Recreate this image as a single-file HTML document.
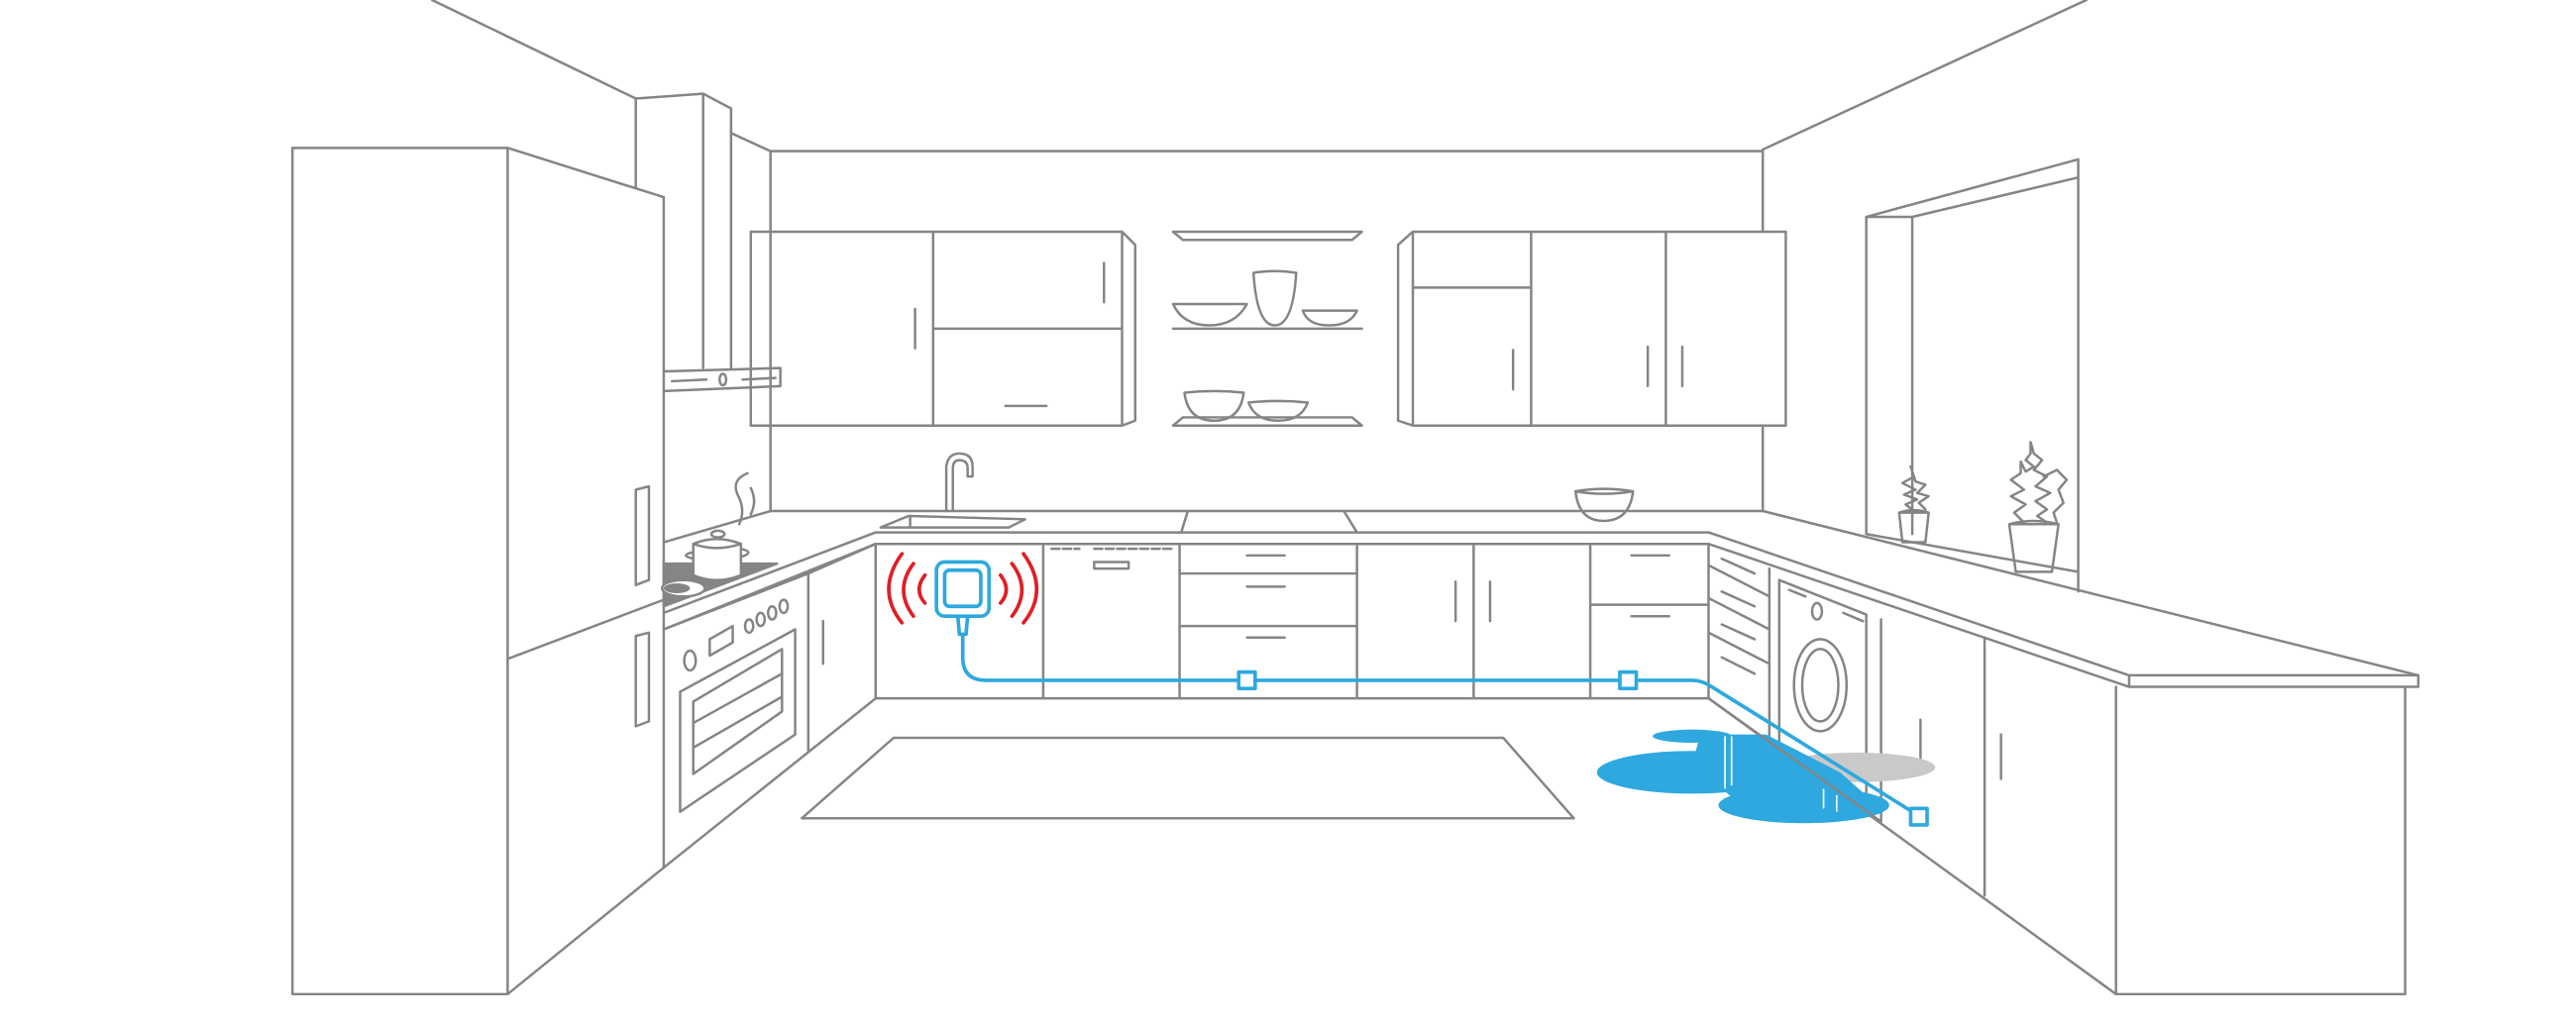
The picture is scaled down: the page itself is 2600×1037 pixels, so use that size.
<!DOCTYPE html>
<html><head><meta charset="utf-8"><style>html,body{margin:0;padding:0;background:#fff}svg{display:block}</style></head>
<body>
<svg width="2600" height="1037" viewBox="0 0 1568 625" preserveAspectRatio="none" xmlns="http://www.w3.org/2000/svg">
<g fill="none" stroke="#858585" stroke-width="1.5" stroke-linejoin="round" stroke-linecap="round">
<path d="M263 0 L387 60 M1270 0 L1073 91"/>
<path d="M387 60 L387 114 M387 60 L428 57 L445 66 M428 57 L428 224 M445 66 L445 224 M445 81 L469 92 L1073 92 M469 92 L469 311 M1073 92 L1073 141 M1073 259 L1073 311"/>
<path d="M404 226 L475 224 L475 235 L404 238 M409 232 L430 231 M452 231 L472 230"/>
<ellipse cx="440" cy="231" rx="2" ry="3.5"/>
<path d="M178 90 L309 90 L309 605 L178 605 Z M309 90 L404 120 L404 528 M309 605 L404 528 M309 401 L404 365"/>
<path d="M387 298 L395 296 L395 353 L387 356 Z M387 387 L395 385 L395 439 L387 442 Z"/>
<path d="M469 311 L1073 311 M469 311 L404 330 M533 324 L1040 324 M533 331 L1040 331 M533 324 L404 373 M533 331 L404 383"/>
<path d="M723 311 L719 324 M818 311 L826 324"/>
<path d="M1040 324 L1296 411 L1472 411 L1472 418 L1296 418 L1040 331 M1296 411 L1296 418 M1073 311 L1472 411"/>
<path d="M1136 132 L1164 132 M1136 132 L1265 97 L1265 360 M1164 132 L1265 108 M1136 132 L1136 325 M1164 132 L1164 325 M1136 325 L1265 348"/>
<path d="M533 331 L533 425 L1040 425 M635 331 L635 425 M718 331 L718 425 M826 331 L826 425 M897 331 L897 425 M968 331 L968 425 M1040 331 L1040 425"/>
<path d="M718 349 L826 349 M718 381 L826 381 M968 368 L1040 368"/>
<path d="M759 338 L782 338 M759 357 L782 357 M759 388 L782 388 M993 338 L1016 338 M993 375 L1016 375 M886 354 L886 378 M907 354 L907 378"/>
<path d="M640 334 L657 334 M666 334 L713 334" stroke-dasharray="5 2"/>
<rect x="666" y="342" width="21" height="4"/>
<path d="M404 528 L533 425 M492 349 L492 457 M492 349 L533 331 M404 383 L492 349 M501 378 L501 404"/>
<path d="M414 421 L484 383 L484 447 L414 494 Z M422 427 L476 395 L476 433 L422 471 Z M422 440 L476 410 M422 455 L476 424"/>
<path d="M432 389 L446 381 L446 391 L432 399 Z"/>
<ellipse cx="420" cy="402" rx="3.5" ry="6"/>
<ellipse cx="456" cy="381" rx="2.5" ry="4"/><ellipse cx="463" cy="377" rx="2.5" ry="4"/><ellipse cx="470" cy="373" rx="2.5" ry="4"/><ellipse cx="477" cy="369" rx="2.5" ry="4"/>
<!-- cooktop -->
<path d="M404 343 L473 343 L404 369 Z" fill="#858585"/>
<ellipse cx="416" cy="358" rx="13" ry="5" fill="#fff"/>
<ellipse cx="412" cy="358" rx="8" ry="3" fill="#858585" stroke="none"/>
<path d="M422 331 L422 350 Q436 356 451 350 L451 331 M422 331 Q436 325 451 331 Q436 336 422 331 M422 336 Q413 338 422 340 M451 334 Q460 336 451 339" fill="#fff"/>
<ellipse cx="437" cy="325" rx="4" ry="2" fill="#fff"/>
<path d="M455 288 Q445 292 449 301 Q454 310 450 319 M457 297 Q461 305 457 313"/>
<!-- right lower -->
<path d="M1040 425 L1288 605 M1288 418 L1288 605 L1464 605 L1464 418 M1077 346 L1077 455 M1145 377 L1145 500 M1208 388 L1208 545 M1040 344 L1077 363 M1040 364 L1077 383 M1040 385 L1077 404"/>
<path d="M1083 353 L1136 374 L1136 492 M1083 353 L1083 458"/>
<path d="M1048 340 L1068 349 M1048 360 L1068 369 M1048 380 L1068 389 M1048 400 L1068 410 M1089 359 L1099 363 M1122 373 L1134 378 M1169 438 L1169 462 M1218 447 L1218 474"/>
<ellipse cx="1108" cy="417" rx="16" ry="28"/><ellipse cx="1108" cy="417" rx="11" ry="22"/>
<ellipse cx="1106" cy="372" rx="3" ry="5"/>
<path d="M544 449 L915 449 L958 498 L488 498 Z"/>
<path d="M457 141 L683 141 L683 259 L457 259 Z M568 141 L568 259 M568 200 L683 200 M683 141 L691 149 L691 256 L683 259 M557 188 L557 212 M672 160 L672 184 M612 247 L637 247"/>
<path d="M860 141 L1087 141 L1087 259 L860 259 Z M932 141 L932 259 M1014 141 L1014 259 M860 175 L932 175 M860 141 L851 149 L851 256 L860 259 M921 213 L921 237 M1003 211 L1003 235 M1024 211 L1024 235"/>
<path d="M714 141 L829 141 L823 146 L720 146 Z M714 200 L829 200 M714 259 L829 259 L823 254 L720 254 Z"/>
<path d="M714 185 L759 185 Q752 198 736 198 Q720 198 714 185 Z M763 166 Q776 164 789 166 Q787 198 776 198 Q765 198 763 166 Z M793 189 L826 189 Q822 198 809 198 Q796 198 793 189 Z"/>
<path d="M721 239 Q739 237 757 239 Q755 256 739 256 Q723 256 721 239 Z M760 245 Q778 243 796 245 Q792 256 778 256 Q764 256 760 245 Z"/>
<path d="M553 314 L624 316 L614 321 L536 321 Z M554 314 L554 320"/>
<path d="M576 311 L576 284 Q577 276 584 276 Q592 276 592 284 L592 290 L589 290 L589 285 Q589 280 584 280 Q580 280 580 285 L580 311"/>
<path d="M959 299 Q976 296 994 299 Q992 317 976 317 Q961 317 959 299 Z M959 299 Q976 302 994 299"/>
<!-- plants -->
<path d="M1156 312 L1174 312 L1172 330 L1158 330 Z M1156 312 Q1165 309 1174 312"/>
<path d="M1165 311 L1160 307 L1167 304 L1159 301 L1166 298 L1158 294 L1165 290 L1163 284 L1166 293 L1172 295 L1167 300 L1174 302 L1168 306 L1172 310"/>
<path d="M1223 319 L1253 319 L1249 348 L1227 348 Z M1223 319 Q1238 315 1253 319"/>
<path d="M1232 318 L1226 312 L1233 307 L1224 302 L1232 298 L1224 292 L1230 288 L1230 281 L1233 287 L1238 284 L1233 280 L1236 276 L1236 269 L1238 276 L1243 280 L1238 286 L1246 290 L1239 296 L1248 300 L1239 305 L1246 310 L1240 314 L1246 318 M1244 290 L1252 286 L1258 292 L1253 298 L1256 306 L1250 312 L1252 318"/>
</g>
<ellipse cx="1130" cy="467" rx="48" ry="9" fill="#c9c9c9"/>
<g fill="#2ea8df">
<ellipse cx="1030" cy="448" rx="24" ry="4"/>
<ellipse cx="1030" cy="470" rx="58" ry="13"/>
<ellipse cx="1098" cy="490" rx="52" ry="11"/>
<path d="M1035 447 L1075 447 L1120 470 L1145 492 L1060 490 L1030 465 Z"/>
</g>
<g stroke="#fff" stroke-width="1"><path d="M1050 448 L1050 480 M1054 448 L1054 478 M1110 480 L1110 492 M1118 484 L1118 494"/></g>
<path d="M1040 425 L1145 500" stroke="#858585" stroke-width="1.5"/>
<g fill="none" stroke="#2ea8df" stroke-width="2.2" stroke-linejoin="round">
<path d="M586 386 L586 400 Q586 414 600 414 L1030 414 Q1036 414 1042 418 L1164 494"/>
<rect x="570" y="342" width="32" height="33" rx="5"/>
<rect x="575" y="347" width="22" height="22" rx="3"/>
<path d="M583 375 L584 386 L588 386 L589 375"/>
<rect x="754" y="409" width="10" height="10" fill="#fff"/>
<rect x="986" y="409" width="10" height="10" fill="#fff"/>
<rect x="1163" y="492" width="10" height="10" fill="#fff"/>
</g>
<g fill="none" stroke="#e01e25" stroke-width="2.2" stroke-linecap="round">
<path d="M563 350 Q556 359 563 367 M556 343 Q544 359 556 375 M549 337 Q533 359 549 379"/>
<path d="M609 350 Q616 359 609 367 M616 343 Q628 359 616 375 M623 337 Q639 359 623 379"/>
</g>
</svg>
</body></html>
